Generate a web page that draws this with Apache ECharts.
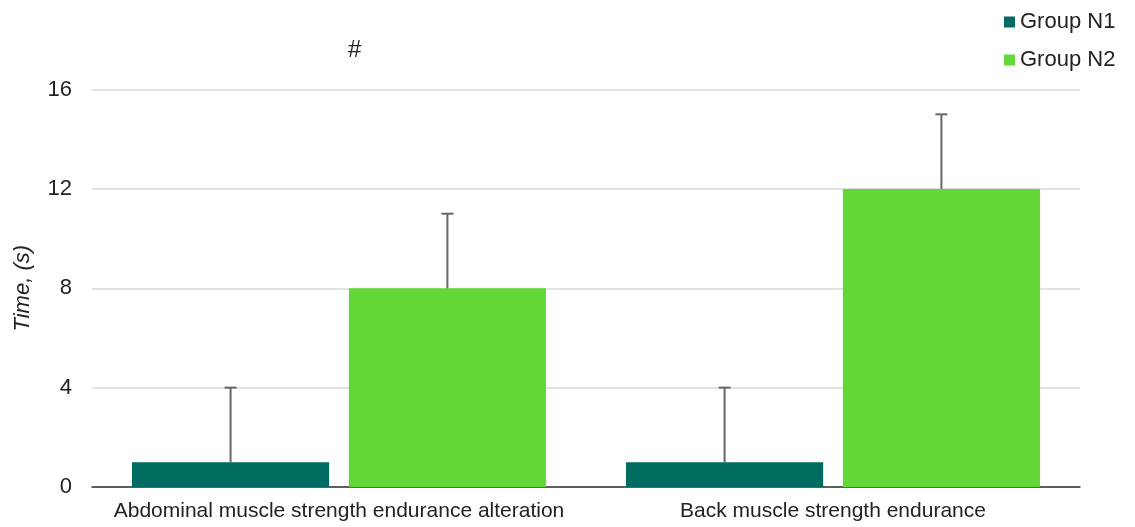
<!DOCTYPE html>
<html>
<head>
<meta charset="utf-8">
<script src="https://cdn.jsdelivr.net/npm/echarts@6/dist/echarts.min.js"></script>
<style>
  html, body { margin: 0; padding: 0; background: #fff; }
  #chart { width: 1135px; height: 527px; }
</style>
</head>
<body>
<div id="chart"></div>
<script>
var categories = ['Abdominal muscle strength endurance alteration', 'Back muscle strength endurance'];
var seriesNames = ['Group N1', 'Group N2'];
var n1Values = [1, 1];
var n1Upper = [4, 4];
var n2Values = [8, 12];
var n2Upper = [11, 15];
var yTicks = [0, 4, 8, 12, 16];

var barCategoryGap = 0.162;
var barGap = 0.1;
var colors = ['#006b61', '#61d836'];

// error bars drawn as custom series, shifted to the centre of each bar
function errorSeries(values, upper, idx) {
  return {
    type: 'custom',
    name: seriesNames[idx] + ' err',
    z: 5,
    silent: true,
    data: values.map(function (v, i) { return [i, v, upper[i]]; }),
    renderItem: function (params, api) {
      var band = api.size([1, 0])[0];
      var w = band * (1 - barCategoryGap) / (2 + barGap);
      var start = -band / 2 + band * barCategoryGap / 2;
      var off = start + idx * (w + w * barGap) + w / 2;
      var p0 = api.coord([api.value(0), api.value(1)]);
      var p1 = api.coord([api.value(0), api.value(2)]);
      var x = p0[0] + off;
      var style = { stroke: '#666', lineWidth: 2 };
      return {
        type: 'group',
        children: [
          { type: 'line', shape: { x1: x, y1: p0[1], x2: x, y2: p1[1] }, style: style },
          { type: 'line', shape: { x1: x - 6, y1: p1[1], x2: x + 6, y2: p1[1] }, style: style }
        ]
      };
    }
  };
}

var chart = echarts.init(document.getElementById('chart'));
chart.setOption({
  animation: false,
  textStyle: { fontFamily: 'Liberation Sans, Arial, sans-serif' },
  grid: { left: 92, right: 55, top: 89.5, bottom: 40 },
  legend: {
    orient: 'vertical',
    left: 999,
    top: 6,
    itemWidth: 11,
    itemHeight: 11,
    itemGap: 16,
    icon: 'rect',
    data: seriesNames,
    textStyle: { fontSize: 22, color: '#222' }
  },
  xAxis: {
    type: 'category',
    data: categories,
    axisTick: { show: false },
    axisLine: { lineStyle: { color: '#333', width: 1.5 } },
    axisLabel: { fontSize: 21, color: '#222', margin: 14, interval: 0 }
  },
  yAxis: {
    type: 'value',
    min: 0,
    max: 16,
    interval: 4,
    name: 'Time, (s)',
    nameLocation: 'middle',
    nameGap: 58,
    nameTextStyle: { fontSize: 22, fontStyle: 'italic', color: '#222' },
    axisLine: { show: false },
    axisTick: { show: false },
    axisLabel: {
      fontSize: 22, color: '#222', margin: 20,
      formatter: function (v) { return yTicks.indexOf(v) >= 0 ? String(v) : ''; }
    },
    splitLine: { lineStyle: { color: '#d9d9d9', width: 1.5 } }
  },
  graphic: [
    { type: 'text', left: 348, top: 38, style: { text: '#', fontSize: 24, fill: '#222', fontFamily: 'Liberation Sans, Arial, sans-serif' } }
  ],
  series: [
    {
      name: seriesNames[0], type: 'bar', data: n1Values, itemStyle: { color: colors[0] },
      barGap: (barGap * 100) + '%', barCategoryGap: (barCategoryGap * 100) + '%'
    },
    {
      name: seriesNames[1], type: 'bar', data: n2Values, itemStyle: { color: colors[1] },
      barGap: (barGap * 100) + '%', barCategoryGap: (barCategoryGap * 100) + '%'
    },
    errorSeries(n1Values, n1Upper, 0),
    errorSeries(n2Values, n2Upper, 1)
  ]
});
</script>
</body>
</html>
